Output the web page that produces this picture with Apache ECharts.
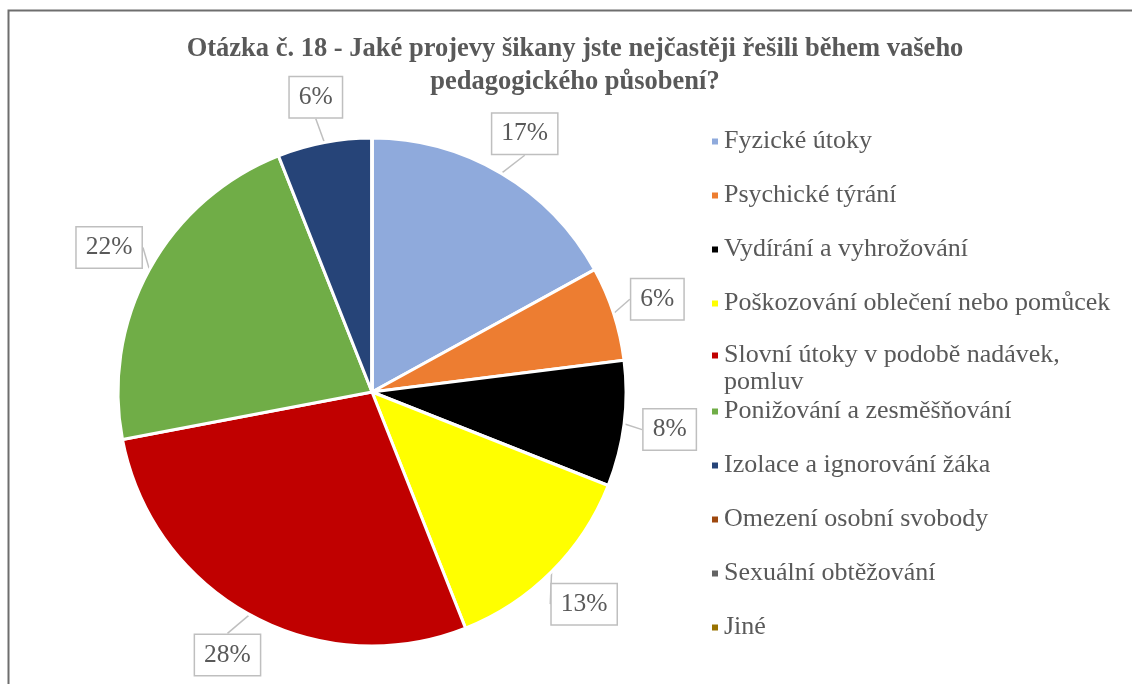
<!DOCTYPE html>
<html lang="cs">
<head>
    <meta charset="UTF-8">
    <title>Otázka č. 18</title>
    <script src="https://cdn.jsdelivr.net/npm/echarts@6/dist/echarts.min.js"></script>
    <style>
        html, body { margin: 0; padding: 0; background: #fff; }
        #chart { width: 1132px; height: 684px; }
    </style>
</head>
<body>
<div id="chart"></div>

<script type="text/javascript">
    // kategorie a hodnoty (v %)
    var categories = [
        'Fyzické útoky',
        'Psychické týrání',
        'Vydírání a vyhrožování',
        'Poškozování oblečení nebo pomůcek',
        'Slovní útoky v podobě nadávek, pomluv',
        'Ponižování a zesměšňování',
        'Izolace a ignorování žáka',
        'Omezení osobní svobody',
        'Sexuální obtěžování',
        'Jiné'
    ];
    var values = [17, 6, 8, 13, 28, 22, 6, 0, 0, 0];
    var colors = ['#8FAADC', '#ED7D31', '#000000', '#FFFF00', '#C00000',
                  '#70AD47', '#264478', '#9E480E', '#636363', '#997300'];

    var chart = echarts.init(document.getElementById('chart'), null, {renderer: 'canvas'});

    var pieData = categories.map(function (name, i) {
        return {
            name: name,
            value: values[i],
            itemStyle: {color: colors[i]},
            label: {show: values[i] > 0},
            labelLine: {show: values[i] > 0}
        };
    });

    var legendText = {
        fontFamily: '"Liberation Serif", serif',
        fontSize: 26,
        lineHeight: 27,
        color: '#595959'
    };

    // dlouhá položka se zalomí jako v originále; prázdný řádek nahoře,
    // aby ikona stála u prvního řádku textu
    function legendBlock(top, names) {
        return {
            orient: 'vertical',
            left: 705,
            top: top,
            itemWidth: 8,
            itemHeight: 8,
            itemGap: 27,
            icon: 'rect',
            data: names,
            formatter: function (name) {
                if (name.indexOf('nadávek, ') > 0) {
                    return ' \n' + name.replace('nadávek, ', 'nadávek,\n');
                }
                return name;
            },
            textStyle: legendText
        };
    }

    var option = {
        animation: false,
        backgroundColor: '#fff',
        textStyle: {fontFamily: '"Liberation Serif", "Times New Roman", serif'},
        title: {
            text: 'Otázka č. 18 - Jaké projevy šikany jste nejčastěji řešili během vašeho\npedagogického působení?',
            left: 570,
            top: 28,
            textAlign: 'center',
            textStyle: {
                fontFamily: '"Liberation Serif", serif',
                fontWeight: 'bold',
                fontSize: 26.5,
                lineHeight: 33,
                color: '#595959'
            }
        },
        legend: [
            legendBlock(123, categories.slice(0, 4)),
            legendBlock(310, categories.slice(4, 5)),
            legendBlock(393, categories.slice(5))
        ],
        graphic: [{
            type: 'rect',
            shape: {x: 8.5, y: 10.5, width: 1200, height: 800},
            style: {fill: 'none', stroke: '#6E6E6E', lineWidth: 2},
            silent: true
        }],
        series: [{
            type: 'pie',
            center: [372, 392],
            radius: 254,
            startAngle: 90,
            clockwise: true,
            stillShowZeroSum: true,
            itemStyle: {borderColor: '#fff', borderWidth: 3},
            label: {
                position: 'outside',
                formatter: function (p) { return p.value + '%'; },
                fontFamily: '"Liberation Serif", serif',
                fontSize: 25.5,
                color: '#595959',
                backgroundColor: '#fff',
                borderColor: '#BFBFBF',
                borderWidth: 1.5,
                padding: [8, 9, 6, 9]
            },
            labelLine: {
                show: true,
                length: 20,
                length2: 0,
                lineStyle: {color: '#BFBFBF', width: 1.5}
            },
            labelLayout: function (params) {
                var pts = params.labelLinePoints;
                if (!pts) return {};
                var dx = pts[1][0] - pts[0][0];
                var dy = pts[1][1] - pts[0][1];
                var len = Math.sqrt(dx * dx + dy * dy) || 1;
                var d = 46;
                return {
                    x: pts[0][0] + dx / len * d,
                    y: pts[0][1] + dy / len * d,
                    align: 'center',
                    verticalAlign: 'middle'
                };
            },
            data: pieData
        }]
    };

    chart.setOption(option);
</script>
</body>
</html>
